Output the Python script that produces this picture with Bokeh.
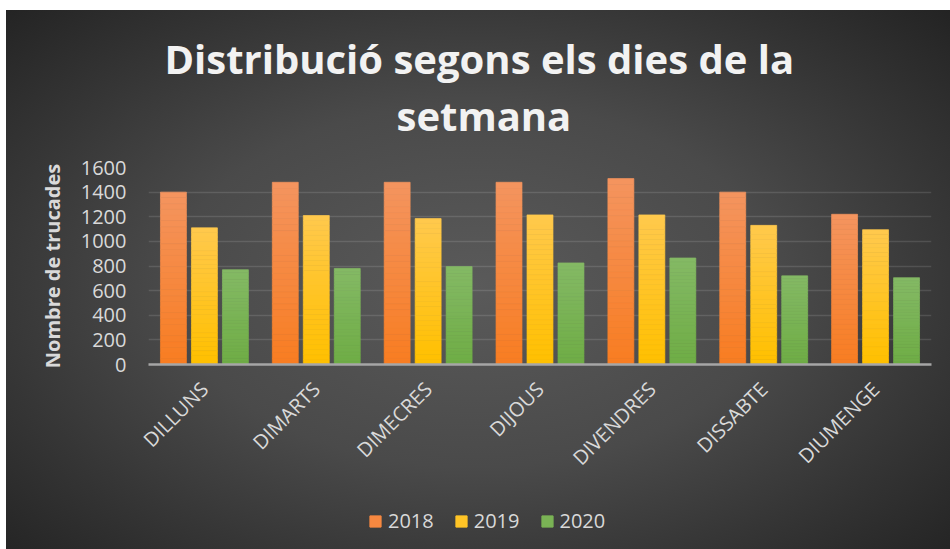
import math
from bokeh.plotting import figure
from bokeh.layouts import column
from bokeh.models import (ColumnDataSource, FactorRange, Range1d, FixedTicker,
                          Legend, LegendItem, Title)
from bokeh.transform import dodge
from bokeh.embed import file_html
from bokeh.resources import INLINE

# ---- data ----
days = ["DILLUNS", "DIMARTS", "DIMECRES", "DIJOUS", "DIVENDRES", "DISSABTE", "DIUMENGE"]
years = ["2018", "2019", "2020"]
v2018 = [1400, 1480, 1480, 1480, 1510, 1400, 1220]
v2019 = [1110, 1210, 1185, 1215, 1215, 1130, 1095]
v2020 = [770, 780, 795, 825, 865, 720, 705]
y_ticks = [0, 200, 400, 600, 800, 1000, 1200, 1400, 1600]
title_lines = ["Distribució segons els dies de la", "setmana"]

series = [v2018, v2019, v2020]
# (bottom colour, top colour) of each bar's vertical gradient
grad = [("#F87D22", "#F4945E"), ("#FFC000", "#FFC94C"), ("#6FAD46", "#84B964")]
offsets = [-0.277, 0.0, 0.277]
BAR_W = 0.232
N = 30


def blend(c1, c2, t):
    a = [int(c1[i:i + 2], 16) for i in (1, 3, 5)]
    b = [int(c2[i:i + 2], 16) for i in (1, 3, 5)]
    return "#%02x%02x%02x" % tuple(round(a[j] + (b[j] - a[j]) * t) for j in range(3))


TXT = "#d9d9d9"
FONT = "Open Sans"

p = figure(frame_width=783, frame_height=197, x_range=FactorRange(*days, range_padding=0),
           y_range=Range1d(0, 1600), output_backend="svg", toolbar_location=None,
           min_border_left=148, min_border_right=19, min_border_top=167,
           min_border_bottom=136)
p.background_fill_color = None
p.border_fill_color = None
p.outline_line_color = None

for yr, vals, (c0, c1), off in zip(years, series, grad, offsets):
    d, b, t, c = [], [], [], []
    for day, v in zip(days, vals):
        for k in range(N):
            d.append(day)
            b.append(v * k / N)
            t.append(v * (k + 1) / N)
            c.append(blend(c0, c1, k / (N - 1)))
    src = ColumnDataSource(dict(day=d, bottom=b, top=t, color=c))
    p.vbar(x=dodge("day", off, range=p.x_range), width=BAR_W, bottom="bottom",
           top="top", fill_color="color", line_color="color", line_width=0.7,
           source=src)

# ---- title: two lines + spacer ----
TSTYLE = dict(text_font=FONT, text_font_style="bold", text_font_size="40px",
              text_color="#f2f2f2", align="left")
p.title.text = title_lines[0]
p.title.align = "left"
p.title.offset = 16
p.title.standoff = 0
p.title.text_font = FONT
p.title.text_font_style = "bold"
p.title.text_font_size = "40px"
p.title.text_color = "#f2f2f2"
p.add_layout(Title(text=" ", text_font_size="10px", standoff=12), "above")
p.add_layout(Title(text=title_lines[1], offset=248, standoff=0, **TSTYLE), "above")

# grid
p.xgrid.grid_line_color = None
p.ygrid.grid_line_color = "white"
p.ygrid.grid_line_alpha = 0.12
p.ygrid.grid_line_width = 1.5

# y axis
p.yaxis.ticker = FixedTicker(ticks=y_ticks)
p.yaxis.axis_line_color = None
p.yaxis.major_tick_line_color = None
p.yaxis.minor_tick_line_color = None
p.yaxis.major_tick_out = 0
p.yaxis.major_label_standoff = 22
p.yaxis.major_label_text_color = TXT
p.yaxis.major_label_text_font = FONT
p.yaxis.major_label_text_font_size = "20px"
p.yaxis.axis_label = "Nombre de trucades"
p.yaxis.axis_label_text_font = FONT
p.yaxis.axis_label_text_font_style = "bold"
p.yaxis.axis_label_text_font_size = "20px"
p.yaxis.axis_label_text_color = TXT
p.yaxis.axis_label_standoff = 12

# x axis
p.xaxis.axis_line_color = "#a6a6a6"
p.xaxis.axis_line_width = 2.5
p.xaxis.major_tick_line_color = None
p.xaxis.major_tick_out = 0
p.xaxis.major_label_orientation = math.pi / 4
p.xaxis.major_label_standoff = 21
p.xaxis.major_label_text_color = TXT
p.xaxis.major_label_text_font = FONT
p.xaxis.major_label_text_font_size = "20px"

# ---- legend strip (separate small figure under the chart) ----
pl = figure(width=950, height=49, output_backend="svg", toolbar_location=None,
            x_axis_location=None, y_axis_location=None,
            x_range=Range1d(1, 2), y_range=Range1d(1, 2),
            min_border_left=0, min_border_right=0, min_border_top=0,
            min_border_bottom=0)
pl.background_fill_color = None
pl.border_fill_color = None
pl.outline_line_color = None
pl.grid.grid_line_color = None
items = []
for yr, (c0, c1) in zip(years, grad):
    mid = blend(c0, c1, 0.5)
    # key swatch renderer; its single zero-height bar lies outside the strip's view
    r = pl.vbar(x=[0], top=[0], bottom=[0], width=0.5, fill_color=mid, line_color=mid)
    items.append(LegendItem(label=yr, renderers=[r]))
legend = Legend(items=items, orientation="horizontal", location=(220, 15),
                background_fill_alpha=0, border_line_alpha=0,
                label_text_color=TXT, label_text_font=FONT,
                label_text_font_size="20px", glyph_width=14, glyph_height=14,
                label_standoff=6, spacing=20, padding=0, margin=0)
pl.add_layout(legend, "center")

layout = column(p, pl, spacing=0)
layout.styles = {"background":
                 "linear-gradient(#fff, #fff) top left / 100% 10px no-repeat, "
                 "linear-gradient(#fff, #fff) top left / 6px 100% no-repeat, "
                 "radial-gradient(ellipse farthest-corner at 50% 52%, "
                 "#5a5a5a 0%, #4a4a4a 45%, #363636 72%, #222222 100%)"}

open("out.html", "w").write(file_html(layout, INLINE))
